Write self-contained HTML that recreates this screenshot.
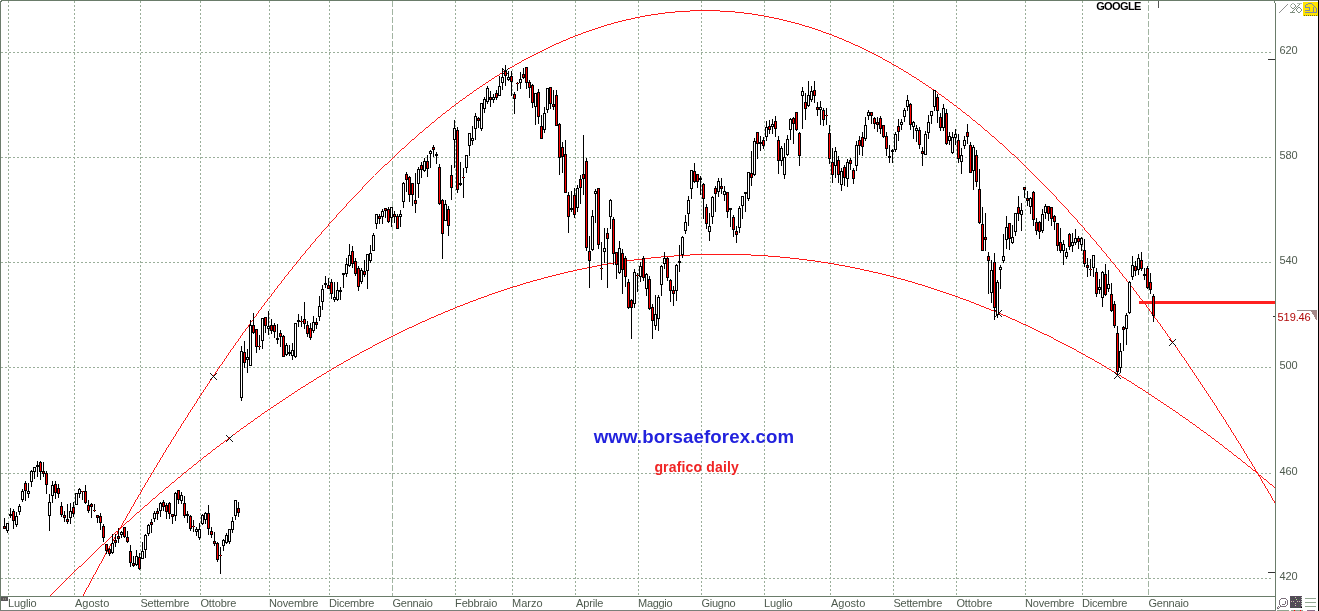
<!DOCTYPE html>
<html lang="it"><head><meta charset="utf-8"><title>GOOGLE - grafico daily</title>
<style>
html,body{margin:0;padding:0;background:#fff;}
body{width:1319px;height:611px;position:relative;overflow:hidden;}
svg{position:absolute;left:0;top:0;display:block;}
</style></head>
<body>
<svg width="1319" height="611" viewBox="0 0 1319 611" style="position:absolute;left:0;top:0;display:block" shape-rendering="crispEdges">
<rect x="0" y="0" width="1319" height="611" fill="#fff"/>
<g id="grid"><line x1="8.5" y1="1" x2="8.5" y2="596" stroke="#9aae9a" stroke-dasharray="2 2"/><line x1="74.5" y1="1" x2="74.5" y2="596" stroke="#9aae9a" stroke-dasharray="2 2"/><line x1="140.5" y1="1" x2="140.5" y2="596" stroke="#9aae9a" stroke-dasharray="2 2"/><line x1="200.5" y1="1" x2="200.5" y2="596" stroke="#9aae9a" stroke-dasharray="2 2"/><line x1="269.5" y1="1" x2="269.5" y2="596" stroke="#9aae9a" stroke-dasharray="2 2"/><line x1="329.5" y1="1" x2="329.5" y2="596" stroke="#9aae9a" stroke-dasharray="2 2"/><line x1="392.5" y1="1" x2="392.5" y2="596" stroke="#a2b4a2" stroke-dasharray="6 2" stroke-dashoffset="0"/><line x1="455.5" y1="1" x2="455.5" y2="596" stroke="#9aae9a" stroke-dasharray="2 2"/><line x1="512.5" y1="1" x2="512.5" y2="596" stroke="#9aae9a" stroke-dasharray="2 2"/><line x1="575.5" y1="1" x2="575.5" y2="596" stroke="#9aae9a" stroke-dasharray="2 2"/><line x1="638.5" y1="1" x2="638.5" y2="596" stroke="#9aae9a" stroke-dasharray="2 2"/><line x1="701.5" y1="1" x2="701.5" y2="596" stroke="#9aae9a" stroke-dasharray="2 2"/><line x1="764.5" y1="1" x2="764.5" y2="596" stroke="#9aae9a" stroke-dasharray="2 2"/><line x1="830.5" y1="1" x2="830.5" y2="596" stroke="#9aae9a" stroke-dasharray="2 2"/><line x1="893.5" y1="1" x2="893.5" y2="596" stroke="#9aae9a" stroke-dasharray="2 2"/><line x1="956.5" y1="1" x2="956.5" y2="596" stroke="#9aae9a" stroke-dasharray="2 2"/><line x1="1025.5" y1="1" x2="1025.5" y2="596" stroke="#9aae9a" stroke-dasharray="2 2"/><line x1="1082.5" y1="1" x2="1082.5" y2="596" stroke="#9aae9a" stroke-dasharray="2 2"/><line x1="1148.5" y1="1" x2="1148.5" y2="596" stroke="#a2b4a2" stroke-dasharray="6 2" stroke-dashoffset="4"/><line x1="1" y1="52.5" x2="1272" y2="52.5" stroke="#9aae9a" stroke-dasharray="2 2"/><line x1="1" y1="157.5" x2="1272" y2="157.5" stroke="#9aae9a" stroke-dasharray="2 2"/><line x1="1" y1="262.5" x2="1272" y2="262.5" stroke="#9aae9a" stroke-dasharray="2 2"/><line x1="1" y1="367.5" x2="1272" y2="367.5" stroke="#9aae9a" stroke-dasharray="2 2"/><line x1="1" y1="473.5" x2="1272" y2="473.5" stroke="#9aae9a" stroke-dasharray="2 2"/><line x1="1" y1="578.5" x2="1272" y2="578.5" stroke="#9aae9a" stroke-dasharray="2 2"/></g>
<rect x="1" y="0" width="1318" height="1" fill="#6a7c6a"/>
<rect x="0" y="1" width="1" height="610" fill="#6c7c6c"/>
<rect x="1" y="1" width="1" height="1" fill="#6a7c6a"/>
<rect x="1275" y="3" width="1" height="608" fill="#6a7c6a"/>
<rect x="1274" y="1" width="1" height="2" fill="#6a7c6a"/>
<rect x="0" y="596" width="1276" height="1" fill="#6a7c6a"/>
<rect x="0" y="610" width="1276" height="1" fill="#7a807a"/>
<rect x="1318" y="0" width="1" height="611" fill="#000"/>
<path id="curveU" d="M690 10h30v1h-30zM675 11h15v1h-15zM720 11h15v1h-15zM665 12h10v1h-10zM735 12h9v1h-9zM658 13h7v1h-7zM744 13h8v1h-8zM651 14h7v1h-7zM752 14h6v1h-6zM645 15h6v1h-6zM758 15h6v1h-6zM640 16h5v1h-5zM764 16h5v1h-5zM635 17h5v1h-5zM769 17h5v1h-5zM631 18h4v1h-4zM774 18h5v1h-5zM626 19h5v1h-5zM779 19h4v1h-4zM622 20h4v1h-4zM783 20h4v1h-4zM618 21h4v1h-4zM787 21h4v1h-4zM614 22h4v1h-4zM791 22h4v1h-4zM611 23h3v1h-3zM795 23h4v1h-4zM607 24h4v1h-4zM799 24h3v1h-3zM604 25h3v1h-3zM802 25h3v1h-3zM601 26h3v1h-3zM805 26h4v1h-4zM598 27h3v1h-3zM809 27h3v1h-3zM595 28h3v1h-3zM812 28h3v1h-3zM592 29h3v1h-3zM815 29h3v1h-3zM589 30h3v1h-3zM818 30h3v1h-3zM586 31h3v1h-3zM821 31h2v1h-2zM583 32h3v1h-3zM823 32h3v1h-3zM581 33h2v1h-2zM826 33h3v1h-3zM578 34h3v1h-3zM829 34h3v1h-3zM575 35h3v1h-3zM832 35h2v1h-2zM573 36h2v1h-2zM834 36h3v1h-3zM570 37h3v1h-3zM837 37h2v1h-2zM568 38h2v1h-2zM839 38h3v1h-3zM566 39h2v1h-2zM842 39h2v1h-2zM563 40h3v1h-3zM844 40h2v1h-2zM561 41h2v1h-2zM846 41h3v1h-3zM559 42h2v1h-2zM849 42h2v1h-2zM556 43h3v1h-3zM851 43h2v1h-2zM554 44h2v1h-2zM853 44h2v1h-2zM552 45h2v1h-2zM855 45h3v1h-3zM550 46h2v1h-2zM858 46h2v1h-2zM548 47h2v1h-2zM860 47h2v1h-2zM546 48h2v1h-2zM862 48h2v1h-2zM544 49h2v1h-2zM864 49h2v1h-2zM542 50h2v1h-2zM866 50h2v1h-2zM540 51h2v1h-2zM868 51h2v1h-2zM538 52h2v1h-2zM870 52h2v1h-2zM536 53h2v1h-2zM872 53h2v1h-2zM534 54h2v1h-2zM874 54h2v1h-2zM532 55h2v1h-2zM876 55h2v1h-2zM530 56h2v1h-2zM878 56h2v1h-2zM528 57h2v1h-2zM880 57h2v1h-2zM526 58h2v1h-2zM882 58h1v1h-1zM524 59h2v1h-2zM883 59h2v1h-2zM522 60h2v1h-2zM885 60h2v1h-2zM521 61h1v1h-1zM887 61h2v1h-2zM519 62h2v1h-2zM889 62h2v1h-2zM517 63h2v1h-2zM891 63h1v1h-1zM515 64h2v1h-2zM892 64h2v1h-2zM514 65h1v1h-1zM894 65h2v1h-2zM512 66h2v1h-2zM896 66h2v1h-2zM510 67h2v1h-2zM898 67h1v1h-1zM508 68h2v1h-2zM899 68h2v1h-2zM507 69h1v1h-1zM901 69h2v1h-2zM505 70h2v1h-2zM903 70h1v1h-1zM503 71h2v1h-2zM904 71h2v1h-2zM502 72h1v1h-1zM906 72h2v1h-2zM500 73h2v1h-2zM908 73h1v1h-1zM499 74h1v1h-1zM909 74h2v1h-2zM497 75h2v1h-2zM911 75h1v1h-1zM495 76h2v1h-2zM912 76h2v1h-2zM494 77h1v1h-1zM914 77h2v1h-2zM492 78h2v1h-2zM916 78h1v1h-1zM491 79h1v1h-1zM917 79h2v1h-2zM489 80h2v1h-2zM919 80h1v1h-1zM488 81h1v1h-1zM920 81h2v1h-2zM486 82h2v1h-2zM922 82h1v1h-1zM485 83h1v1h-1zM923 83h2v1h-2zM483 84h2v1h-2zM925 84h1v1h-1zM482 85h1v1h-1zM926 85h2v1h-2zM480 86h2v1h-2zM928 86h1v1h-1zM479 87h1v1h-1zM929 87h2v1h-2zM477 88h2v1h-2zM931 88h1v1h-1zM476 89h1v1h-1zM932 89h2v1h-2zM474 90h2v1h-2zM934 90h1v1h-1zM473 91h1v1h-1zM935 91h2v1h-2zM472 92h1v1h-1zM937 92h1v1h-1zM470 93h2v1h-2zM938 93h1v1h-1zM469 94h1v1h-1zM939 94h2v1h-2zM467 95h2v1h-2zM941 95h1v1h-1zM466 96h1v1h-1zM942 96h2v1h-2zM465 97h1v1h-1zM944 97h1v1h-1zM463 98h2v1h-2zM945 98h1v1h-1zM462 99h1v1h-1zM946 99h2v1h-2zM460 100h2v1h-2zM948 100h1v1h-1zM459 101h1v1h-1zM949 101h1v1h-1zM458 102h1v1h-1zM950 102h2v1h-2zM456 103h2v1h-2zM952 103h1v1h-1zM455 104h1v1h-1zM953 104h1v1h-1zM454 105h1v1h-1zM954 105h2v1h-2zM452 106h2v1h-2zM956 106h1v1h-1zM451 107h1v1h-1zM957 107h1v1h-1zM450 108h1v1h-1zM958 108h2v1h-2zM449 109h1v1h-1zM960 109h1v1h-1zM447 110h2v1h-2zM961 110h1v1h-1zM446 111h1v1h-1zM962 111h1v1h-1zM445 112h1v1h-1zM963 112h2v1h-2zM443 113h2v1h-2zM965 113h1v1h-1zM442 114h1v1h-1zM966 114h1v1h-1zM441 115h1v1h-1zM967 115h2v1h-2zM440 116h1v1h-1zM969 116h1v1h-1zM438 117h2v1h-2zM970 117h1v1h-1zM437 118h1v1h-1zM971 118h1v1h-1zM436 119h1v1h-1zM972 119h1v1h-1zM435 120h1v1h-1zM973 120h2v1h-2zM434 121h1v1h-1zM975 121h1v1h-1zM432 122h2v1h-2zM976 122h1v1h-1zM431 123h1v1h-1zM977 123h1v1h-1zM430 124h1v1h-1zM978 124h2v1h-2zM429 125h1v1h-1zM980 125h1v1h-1zM428 126h1v1h-1zM981 126h1v1h-1zM426 127h2v1h-2zM982 127h1v1h-1zM425 128h1v1h-1zM983 128h1v1h-1zM424 129h1v1h-1zM984 129h1v1h-1zM423 130h1v1h-1zM985 130h2v1h-2zM422 131h1v1h-1zM987 131h1v1h-1zM420 132h2v1h-2zM988 132h1v1h-1zM419 133h1v1h-1zM989 133h1v1h-1zM418 134h1v1h-1zM990 134h1v1h-1zM417 135h1v1h-1zM991 135h1v1h-1zM416 136h1v1h-1zM992 136h2v1h-2zM415 137h1v1h-1zM994 137h1v1h-1zM414 138h1v1h-1zM995 138h1v1h-1zM412 139h2v1h-2zM996 139h1v1h-1zM411 140h1v1h-1zM997 140h1v1h-1zM410 141h1v1h-1zM998 141h1v1h-1zM409 142h1v1h-1zM999 142h1v1h-1zM408 143h1v1h-1zM1000 143h2v1h-2zM407 144h1v1h-1zM1002 144h1v1h-1zM406 145h1v1h-1zM1003 145h1v1h-1zM405 146h1v1h-1zM1004 146h1v1h-1zM404 147h1v1h-1zM1005 147h1v1h-1zM402 148h2v1h-2zM1006 148h1v1h-1zM401 149h1v1h-1zM1007 149h1v1h-1zM400 150h1v1h-1zM1008 150h1v1h-1zM399 151h1v1h-1zM1009 151h1v1h-1zM398 152h1v1h-1zM1010 152h1v1h-1zM397 153h1v1h-1zM1011 153h1v1h-1zM396 154h1v1h-1zM1012 154h2v1h-2zM395 155h1v1h-1zM1014 155h1v1h-1zM394 156h1v1h-1zM1015 156h1v1h-1zM393 157h1v1h-1zM1016 157h1v1h-1zM392 158h1v1h-1zM1017 158h1v1h-1zM391 159h1v1h-1zM1018 159h1v1h-1zM390 160h1v1h-1zM1019 160h1v1h-1zM389 161h1v1h-1zM1020 161h1v1h-1zM388 162h1v1h-1zM1021 162h1v1h-1zM387 163h1v1h-1zM1022 163h1v1h-1zM385 164h2v1h-2zM1023 164h1v1h-1zM384 165h1v1h-1zM1024 165h1v1h-1zM383 166h1v1h-1zM1025 166h1v1h-1zM382 167h1v1h-1zM1026 167h1v1h-1zM381 168h1v1h-1zM1027 168h1v1h-1zM380 169h1v1h-1zM1028 169h1v1h-1zM379 170h1v1h-1zM1029 170h1v1h-1zM378 171h1v1h-1zM1030 171h1v1h-1zM377 172h1v1h-1zM1031 172h1v1h-1zM376 173h1v1h-1zM1032 173h1v1h-1zM375 174h1v1h-1zM1033 174h1v1h-1zM1034 175h1v1h-1zM373 176h1v1h-1zM1035 176h1v1h-1zM372 177h1v1h-1zM1036 177h1v1h-1zM371 178h1v1h-1zM1037 178h1v1h-1zM370 179h1v1h-1zM1038 179h1v1h-1zM369 180h1v1h-1zM1039 180h1v1h-1zM368 181h1v1h-1zM1040 181h1v1h-1zM367 182h1v1h-1zM1041 182h1v1h-1zM366 183h1v1h-1zM1042 183h1v1h-1zM365 184h1v1h-1zM1043 184h1v1h-1zM364 185h1v1h-1zM1044 185h1v1h-1zM363 186h1v1h-1zM1045 186h1v1h-1zM362 187h1v1h-1zM1046 187h1v1h-1zM362 188h1v1h-1zM1047 188h1v1h-1zM361 189h1v1h-1zM1048 189h1v1h-1zM360 190h1v1h-1zM1049 190h1v1h-1zM359 191h1v1h-1zM1050 191h1v1h-1zM358 192h1v1h-1zM1051 192h1v1h-1zM357 193h1v1h-1zM1052 193h1v1h-1zM356 194h1v1h-1zM1053 194h1v1h-1zM355 195h1v1h-1zM1054 195h1v1h-1zM354 196h1v1h-1zM1055 196h1v1h-1zM353 197h1v1h-1zM1056 197h1v1h-1zM352 198h1v1h-1zM1056 198h1v1h-1zM351 199h1v1h-1zM1057 199h1v1h-1zM350 200h1v1h-1zM1058 200h1v1h-1zM349 201h1v1h-1zM1059 201h1v1h-1zM348 202h1v1h-1zM1060 202h1v1h-1zM347 203h1v1h-1zM1061 203h1v1h-1zM346 204h1v1h-1zM1062 204h1v1h-1zM346 205h1v1h-1zM1063 205h1v1h-1zM345 206h1v1h-1zM1064 206h1v1h-1zM344 207h1v1h-1zM1065 207h1v1h-1zM343 208h1v1h-1zM1066 208h1v1h-1zM342 209h1v1h-1zM1067 209h1v1h-1zM341 210h1v1h-1zM1068 210h1v1h-1zM340 211h1v1h-1zM1068 211h1v1h-1zM339 212h1v1h-1zM1069 212h1v1h-1zM338 213h1v1h-1zM1070 213h1v1h-1zM337 214h1v1h-1zM1071 214h1v1h-1zM336 215h1v1h-1zM1072 215h1v1h-1zM336 216h1v1h-1zM1073 216h1v1h-1zM335 217h1v1h-1zM1074 217h1v1h-1zM334 218h1v1h-1zM1075 218h1v1h-1zM333 219h1v1h-1zM1076 219h1v1h-1zM332 220h1v1h-1zM1077 220h1v1h-1zM331 221h1v1h-1zM1077 221h1v1h-1zM330 222h1v1h-1zM1078 222h1v1h-1zM329 223h1v1h-1zM1079 223h1v1h-1zM328 224h1v1h-1zM1080 224h1v1h-1zM328 225h1v1h-1zM1081 225h1v1h-1zM327 226h1v1h-1zM1082 226h1v1h-1zM326 227h1v1h-1zM1083 227h1v1h-1zM325 228h1v1h-1zM1084 228h1v1h-1zM324 229h1v1h-1zM1084 229h1v1h-1zM323 230h1v1h-1zM1085 230h1v1h-1zM322 231h1v1h-1zM1086 231h1v1h-1zM321 232h1v1h-1zM1087 232h1v1h-1zM321 233h1v1h-1zM1088 233h1v1h-1zM320 234h1v1h-1zM1089 234h1v1h-1zM319 235h1v1h-1zM1090 235h1v1h-1zM318 236h1v1h-1zM1090 236h1v1h-1zM317 237h1v1h-1zM1091 237h1v1h-1zM316 238h1v1h-1zM1092 238h1v1h-1zM315 239h1v1h-1zM1093 239h1v1h-1zM315 240h1v1h-1zM1094 240h1v1h-1zM314 241h1v1h-1zM1095 241h1v1h-1zM313 242h1v1h-1zM1096 242h1v1h-1zM312 243h1v1h-1zM1096 243h1v1h-1zM311 244h1v1h-1zM1097 244h1v1h-1zM310 245h1v1h-1zM1098 245h1v1h-1zM310 246h1v1h-1zM1099 246h1v1h-1zM309 247h1v1h-1zM1100 247h1v1h-1zM308 248h1v1h-1zM1101 248h1v1h-1zM307 249h1v1h-1zM1101 249h1v1h-1zM306 250h1v1h-1zM1102 250h1v1h-1zM305 251h1v1h-1zM1103 251h1v1h-1zM305 252h1v1h-1zM1104 252h1v1h-1zM304 253h1v1h-1zM1105 253h1v1h-1zM303 254h1v1h-1zM1106 254h1v1h-1zM302 255h1v1h-1zM1106 255h1v1h-1zM301 256h1v1h-1zM1107 256h1v1h-1zM300 257h1v1h-1zM1108 257h1v1h-1zM300 258h1v1h-1zM1109 258h1v1h-1zM299 259h1v1h-1zM1110 259h1v1h-1zM298 260h1v1h-1zM1110 260h1v1h-1zM297 261h1v1h-1zM1111 261h1v1h-1zM296 262h1v1h-1zM1112 262h1v1h-1zM296 263h1v1h-1zM1113 263h1v1h-1zM295 264h1v1h-1zM1114 264h1v1h-1zM294 265h1v1h-1zM1115 265h1v1h-1zM293 266h1v1h-1zM1115 266h1v1h-1zM292 267h1v1h-1zM1116 267h1v1h-1zM292 268h1v1h-1zM1117 268h1v1h-1zM291 269h1v1h-1zM1118 269h1v1h-1zM290 270h1v1h-1zM1119 270h1v1h-1zM289 271h1v1h-1zM1119 271h1v1h-1zM288 272h1v1h-1zM1120 272h1v1h-1zM288 273h1v1h-1zM1121 273h1v1h-1zM287 274h1v1h-1zM1122 274h1v1h-1zM286 275h1v1h-1zM1122 275h1v1h-1zM285 276h1v1h-1zM1123 276h1v1h-1zM284 277h1v1h-1zM1124 277h1v1h-1zM284 278h1v1h-1zM1125 278h1v1h-1zM283 279h1v1h-1zM1126 279h1v1h-1zM282 280h1v1h-1zM1126 280h1v1h-1zM281 281h1v1h-1zM1127 281h1v1h-1zM281 282h1v1h-1zM1128 282h1v1h-1zM280 283h1v1h-1zM1129 283h1v1h-1zM279 284h1v1h-1zM1130 284h1v1h-1zM278 285h1v1h-1zM1130 285h1v1h-1zM277 286h1v1h-1zM1131 286h1v1h-1zM277 287h1v1h-1zM1132 287h1v1h-1zM276 288h1v1h-1zM1133 288h1v1h-1zM275 289h1v1h-1zM1133 289h1v1h-1zM274 290h1v1h-1zM1134 290h1v1h-1zM274 291h1v1h-1zM1135 291h1v1h-1zM273 292h1v1h-1zM1136 292h1v1h-1zM272 293h1v1h-1zM1136 293h1v1h-1zM271 294h1v1h-1zM1137 294h1v1h-1zM271 295h1v1h-1zM1138 295h1v1h-1zM270 296h1v1h-1zM1139 296h1v1h-1zM269 297h1v1h-1zM1139 297h1v1h-1zM268 298h1v1h-1zM1140 298h1v1h-1zM267 299h1v1h-1zM1141 299h1v1h-1zM267 300h1v1h-1zM1142 300h1v1h-1zM266 301h1v1h-1zM1143 301h1v1h-1zM265 302h1v1h-1zM1143 302h1v1h-1zM264 303h1v1h-1zM1144 303h1v1h-1zM264 304h1v1h-1zM1145 304h1v1h-1zM263 305h1v1h-1zM1146 305h1v1h-1zM262 306h1v1h-1zM1146 306h1v1h-1zM261 307h1v1h-1zM1147 307h1v1h-1zM261 308h1v1h-1zM1148 308h1v1h-1zM260 309h1v1h-1zM1149 309h1v1h-1zM259 310h1v1h-1zM1149 310h1v1h-1zM258 311h1v1h-1zM1150 311h1v1h-1zM258 312h1v1h-1zM1151 312h1v1h-1zM257 313h1v1h-1zM1151 313h1v1h-1zM256 314h1v1h-1zM1152 314h1v1h-1zM256 315h1v1h-1zM1153 315h1v1h-1zM255 316h1v1h-1zM1154 316h1v1h-1zM254 317h1v1h-1zM1154 317h1v1h-1zM253 318h1v1h-1zM1155 318h1v1h-1zM253 319h1v1h-1zM1156 319h1v1h-1zM252 320h1v1h-1zM1157 320h1v1h-1zM251 321h1v1h-1zM1157 321h1v1h-1zM250 322h1v1h-1zM1158 322h1v1h-1zM250 323h1v1h-1zM1159 323h1v1h-1zM249 324h1v1h-1zM1160 324h1v1h-1zM248 325h1v1h-1zM1160 325h1v1h-1zM248 326h1v1h-1zM1161 326h1v1h-1zM247 327h1v1h-1zM1162 327h1v1h-1zM246 328h1v1h-1zM1162 328h1v1h-1zM245 329h1v1h-1zM1163 329h1v1h-1zM245 330h1v1h-1zM1164 330h1v1h-1zM244 331h1v1h-1zM1165 331h1v1h-1zM243 332h1v1h-1zM1165 332h1v1h-1zM242 333h1v1h-1zM1166 333h1v1h-1zM242 334h1v1h-1zM1167 334h1v1h-1zM241 335h1v1h-1zM1167 335h1v1h-1zM240 336h1v1h-1zM1168 336h1v1h-1zM240 337h1v1h-1zM1169 337h1v1h-1zM239 338h1v1h-1zM1170 338h1v1h-1zM238 339h1v1h-1zM1170 339h1v1h-1zM238 340h1v1h-1zM1171 340h1v1h-1zM237 341h1v1h-1zM1172 341h1v1h-1zM236 342h1v1h-1zM1172 342h1v1h-1zM235 343h1v1h-1zM1173 343h1v1h-1zM235 344h1v1h-1zM1174 344h1v1h-1zM234 345h1v1h-1zM1175 345h1v1h-1zM233 346h1v1h-1zM1175 346h1v1h-1zM233 347h1v1h-1zM1176 347h1v1h-1zM232 348h1v1h-1zM1177 348h1v1h-1zM231 349h1v1h-1zM1177 349h1v1h-1zM230 350h1v1h-1zM1178 350h1v1h-1zM230 351h1v1h-1zM1179 351h1v1h-1zM229 352h1v1h-1zM1179 352h1v1h-1zM228 353h1v1h-1zM1180 353h1v1h-1zM228 354h1v1h-1zM1181 354h1v1h-1zM227 355h1v1h-1zM1181 355h1v1h-1zM226 356h1v1h-1zM1182 356h1v1h-1zM226 357h1v1h-1zM1183 357h1v1h-1zM225 358h1v1h-1zM1184 358h1v1h-1zM224 359h1v1h-1zM1184 359h1v1h-1zM224 360h1v1h-1zM1185 360h1v1h-1zM223 361h1v1h-1zM1186 361h1v1h-1zM222 362h1v1h-1zM1186 362h1v1h-1zM222 363h1v1h-1zM1187 363h1v1h-1zM221 364h1v1h-1zM1188 364h1v1h-1zM220 365h1v1h-1zM1188 365h1v1h-1zM219 366h1v1h-1zM1189 366h1v1h-1zM219 367h1v1h-1zM1190 367h1v1h-1zM218 368h1v1h-1zM1190 368h1v1h-1zM217 369h1v1h-1zM1191 369h1v1h-1zM217 370h1v1h-1zM1192 370h1v1h-1zM216 371h1v1h-1zM1192 371h1v1h-1zM215 372h1v1h-1zM1193 372h1v1h-1zM215 373h1v1h-1zM1194 373h1v1h-1zM214 374h1v1h-1zM1194 374h1v1h-1zM213 375h1v1h-1zM1195 375h1v1h-1zM213 376h1v1h-1zM1196 376h1v1h-1zM212 377h1v1h-1zM1196 377h1v1h-1zM211 378h1v1h-1zM1197 378h1v1h-1zM211 379h1v1h-1zM1198 379h1v1h-1zM210 380h1v1h-1zM1198 380h1v1h-1zM209 381h1v1h-1zM1199 381h1v1h-1zM209 382h1v1h-1zM1200 382h1v1h-1zM208 383h1v1h-1zM1200 383h1v1h-1zM207 384h1v1h-1zM1201 384h1v1h-1zM207 385h1v1h-1zM1202 385h1v1h-1zM206 386h1v1h-1zM1202 386h1v1h-1zM205 387h1v1h-1zM1203 387h1v1h-1zM205 388h1v1h-1zM1204 388h1v1h-1zM204 389h1v1h-1zM1204 389h1v1h-1zM203 390h1v1h-1zM1205 390h1v1h-1zM203 391h1v1h-1zM1206 391h1v1h-1zM202 392h1v1h-1zM1206 392h1v1h-1zM201 393h1v1h-1zM1207 393h1v1h-1zM201 394h1v1h-1zM1208 394h1v1h-1zM200 395h1v1h-1zM1208 395h1v1h-1zM199 396h1v1h-1zM1209 396h1v1h-1zM199 397h1v1h-1zM1210 397h1v1h-1zM198 398h1v1h-1zM1210 398h1v1h-1zM197 399h1v1h-1zM1211 399h1v1h-1zM197 400h1v1h-1zM1212 400h1v1h-1zM196 401h1v1h-1zM1212 401h1v1h-1zM196 402h1v1h-1zM1213 402h1v1h-1zM195 403h1v1h-1zM1214 403h1v1h-1zM194 404h1v1h-1zM1214 404h1v1h-1zM194 405h1v1h-1zM1215 405h1v1h-1zM193 406h1v1h-1zM1216 406h1v1h-1zM192 407h1v1h-1zM1216 407h1v1h-1zM192 408h1v1h-1zM1217 408h1v1h-1zM191 409h1v1h-1zM1217 409h1v1h-1zM190 410h1v1h-1zM1218 410h1v1h-1zM190 411h1v1h-1zM1219 411h1v1h-1zM189 412h1v1h-1zM1219 412h1v1h-1zM188 413h1v1h-1zM1220 413h1v1h-1zM188 414h1v1h-1zM1221 414h1v1h-1zM187 415h1v1h-1zM1221 415h1v1h-1zM187 416h1v1h-1zM1222 416h1v1h-1zM186 417h1v1h-1zM1223 417h1v1h-1zM185 418h1v1h-1zM1223 418h1v1h-1zM185 419h1v1h-1zM1224 419h1v1h-1zM184 420h1v1h-1zM1225 420h1v1h-1zM183 421h1v1h-1zM1225 421h1v1h-1zM183 422h1v1h-1zM1226 422h1v1h-1zM182 423h1v1h-1zM1226 423h1v1h-1zM181 424h1v1h-1zM1227 424h1v1h-1zM181 425h1v1h-1zM1228 425h1v1h-1zM180 426h1v1h-1zM1228 426h1v1h-1zM180 427h1v1h-1zM1229 427h1v1h-1zM179 428h1v1h-1zM1230 428h1v1h-1zM178 429h1v1h-1zM1230 429h1v1h-1zM178 430h1v1h-1zM1231 430h1v1h-1zM177 431h1v1h-1zM1231 431h1v1h-1zM176 432h1v1h-1zM1232 432h1v1h-1zM176 433h1v1h-1zM1233 433h1v1h-1zM175 434h1v1h-1zM1233 434h1v1h-1zM175 435h1v1h-1zM1234 435h1v1h-1zM174 436h1v1h-1zM1235 436h1v1h-1zM173 437h1v1h-1zM1235 437h1v1h-1zM173 438h1v1h-1zM1236 438h1v1h-1zM172 439h1v1h-1zM1236 439h1v1h-1zM171 440h1v1h-1zM1237 440h1v1h-1zM171 441h1v1h-1zM1238 441h1v1h-1zM170 442h1v1h-1zM1238 442h1v1h-1zM170 443h1v1h-1zM1239 443h1v1h-1zM169 444h1v1h-1zM1240 444h1v1h-1zM168 445h1v1h-1zM1240 445h1v1h-1zM168 446h1v1h-1zM1241 446h1v1h-1zM167 447h1v1h-1zM1241 447h1v1h-1zM166 448h1v1h-1zM1242 448h1v1h-1zM166 449h1v1h-1zM1243 449h1v1h-1zM165 450h1v1h-1zM1243 450h1v1h-1zM165 451h1v1h-1zM1244 451h1v1h-1zM164 452h1v1h-1zM1244 452h1v1h-1zM163 453h1v1h-1zM1245 453h1v1h-1zM163 454h1v1h-1zM1246 454h1v1h-1zM162 455h1v1h-1zM1246 455h1v1h-1zM162 456h1v1h-1zM1247 456h1v1h-1zM161 457h1v1h-1zM1247 457h1v1h-1zM160 458h1v1h-1zM1248 458h1v1h-1zM160 459h1v1h-1zM1249 459h1v1h-1zM159 460h1v1h-1zM1249 460h1v1h-1zM159 461h1v1h-1zM1250 461h1v1h-1zM158 462h1v1h-1zM1251 462h1v1h-1zM157 463h1v1h-1zM1251 463h1v1h-1zM157 464h1v1h-1zM1252 464h1v1h-1zM156 465h1v1h-1zM1252 465h1v1h-1zM156 466h1v1h-1zM1253 466h1v1h-1zM155 467h1v1h-1zM1254 467h1v1h-1zM154 468h1v1h-1zM1254 468h1v1h-1zM154 469h1v1h-1zM1255 469h1v1h-1zM153 470h1v1h-1zM1255 470h1v1h-1zM153 471h1v1h-1zM1256 471h1v1h-1zM152 472h1v1h-1zM1257 472h1v1h-1zM151 473h1v1h-1zM1257 473h1v1h-1zM151 474h1v1h-1zM1258 474h1v1h-1zM150 475h1v1h-1zM1258 475h1v1h-1zM150 476h1v1h-1zM1259 476h1v1h-1zM149 477h1v1h-1zM1260 477h1v1h-1zM148 478h1v1h-1zM1260 478h1v1h-1zM148 479h1v1h-1zM1261 479h1v1h-1zM147 480h1v1h-1zM1261 480h1v1h-1zM147 481h1v1h-1zM1262 481h1v1h-1zM146 482h1v1h-1zM1262 482h1v1h-1zM145 483h1v1h-1zM1263 483h1v1h-1zM145 484h1v1h-1zM1264 484h1v1h-1zM144 485h1v1h-1zM1264 485h1v1h-1zM144 486h1v1h-1zM1265 486h1v1h-1zM143 487h1v1h-1zM1265 487h1v1h-1zM142 488h1v1h-1zM1266 488h1v1h-1zM142 489h1v1h-1zM1267 489h1v1h-1zM141 490h1v1h-1zM1267 490h1v1h-1zM141 491h1v1h-1zM1268 491h1v1h-1zM140 492h1v1h-1zM1268 492h1v1h-1zM140 493h1v1h-1zM1269 493h1v1h-1zM139 494h1v1h-1zM1270 494h1v1h-1zM138 495h1v1h-1zM1270 495h1v1h-1zM138 496h1v1h-1zM1271 496h1v1h-1zM137 497h1v1h-1zM1271 497h1v1h-1zM137 498h1v1h-1zM1272 498h1v1h-1zM136 499h1v1h-1zM1272 499h1v1h-1zM135 500h1v1h-1zM1273 500h1v1h-1zM135 501h1v1h-1zM1274 501h1v1h-1zM134 502h1v1h-1zM1274 502h1v1h-1zM134 503h1v1h-1zM133 504h1v1h-1zM133 505h1v1h-1zM132 506h1v1h-1zM131 507h1v1h-1zM131 508h1v1h-1zM130 509h1v1h-1zM130 510h1v1h-1zM129 511h1v1h-1zM129 512h1v1h-1zM128 513h1v1h-1zM127 514h1v1h-1zM127 515h1v1h-1zM126 516h1v1h-1zM126 517h1v1h-1zM125 518h1v1h-1zM125 519h1v1h-1zM124 520h1v1h-1zM123 521h1v1h-1zM123 522h1v1h-1zM122 523h1v1h-1zM122 524h1v1h-1zM121 525h1v1h-1zM121 526h1v1h-1zM120 527h1v1h-1zM119 528h1v1h-1zM119 529h1v1h-1zM118 530h1v1h-1zM118 531h1v1h-1zM117 532h1v1h-1zM117 533h1v1h-1zM116 534h1v1h-1zM115 535h1v1h-1zM115 536h1v1h-1zM114 537h1v1h-1zM114 538h1v1h-1zM113 539h1v1h-1zM113 540h1v1h-1zM112 541h1v1h-1zM112 542h1v1h-1zM111 543h1v1h-1zM110 544h1v1h-1zM110 545h1v1h-1zM109 546h1v1h-1zM109 547h1v1h-1zM108 548h1v1h-1zM108 549h1v1h-1zM107 550h1v1h-1zM107 551h1v1h-1zM106 552h1v1h-1zM105 553h1v1h-1zM105 554h1v1h-1zM104 555h1v1h-1zM104 556h1v1h-1zM103 557h1v1h-1zM103 558h1v1h-1zM102 559h1v1h-1zM102 560h1v1h-1zM101 561h1v1h-1zM101 562h1v1h-1zM100 563h1v1h-1zM99 564h1v1h-1zM99 565h1v1h-1zM98 566h1v1h-1zM98 567h1v1h-1zM97 568h1v1h-1zM97 569h1v1h-1zM96 570h1v1h-1zM96 571h1v1h-1zM95 572h1v1h-1zM95 573h1v1h-1zM94 574h1v1h-1zM93 575h1v1h-1zM93 576h1v1h-1zM92 577h1v1h-1zM92 578h1v1h-1zM91 579h1v1h-1zM91 580h1v1h-1zM90 581h1v1h-1zM90 582h1v1h-1zM89 583h1v1h-1zM89 584h1v1h-1zM88 585h1v1h-1zM88 586h1v1h-1zM87 587h1v1h-1zM86 588h1v1h-1zM86 589h1v1h-1zM85 590h1v1h-1zM85 591h1v1h-1zM84 592h1v1h-1zM84 593h1v1h-1zM83 594h1v1h-1zM83 595h1v1h-1z" fill="#ff1818"/>
<path id="curveL" d="M690 254h61v1h-61zM674 255h16v1h-16zM751 255h17v1h-17zM661 256h13v1h-13zM768 256h12v1h-12zM651 257h10v1h-10zM780 257h10v1h-10zM642 258h9v1h-9zM790 258h9v1h-9zM634 259h8v1h-8zM799 259h8v1h-8zM627 260h7v1h-7zM807 260h8v1h-8zM620 261h7v1h-7zM815 261h6v1h-6zM614 262h6v1h-6zM821 262h7v1h-7zM608 263h6v1h-6zM828 263h6v1h-6zM602 264h6v1h-6zM834 264h5v1h-5zM597 265h5v1h-5zM839 265h6v1h-6zM592 266h5v1h-5zM845 266h5v1h-5zM587 267h5v1h-5zM850 267h5v1h-5zM582 268h5v1h-5zM855 268h5v1h-5zM577 269h5v1h-5zM860 269h4v1h-4zM573 270h4v1h-4zM864 270h5v1h-5zM568 271h5v1h-5zM869 271h4v1h-4zM564 272h4v1h-4zM873 272h5v1h-5zM560 273h4v1h-4zM878 273h4v1h-4zM556 274h4v1h-4zM882 274h4v1h-4zM552 275h4v1h-4zM886 275h4v1h-4zM548 276h4v1h-4zM890 276h4v1h-4zM544 277h4v1h-4zM894 277h3v1h-3zM541 278h3v1h-3zM897 278h4v1h-4zM537 279h4v1h-4zM901 279h4v1h-4zM533 280h4v1h-4zM905 280h3v1h-3zM530 281h3v1h-3zM908 281h4v1h-4zM526 282h4v1h-4zM912 282h3v1h-3zM523 283h3v1h-3zM915 283h3v1h-3zM520 284h3v1h-3zM918 284h4v1h-4zM517 285h3v1h-3zM922 285h3v1h-3zM513 286h4v1h-4zM925 286h3v1h-3zM510 287h3v1h-3zM928 287h3v1h-3zM507 288h3v1h-3zM931 288h3v1h-3zM504 289h3v1h-3zM934 289h3v1h-3zM501 290h3v1h-3zM937 290h3v1h-3zM498 291h3v1h-3zM940 291h3v1h-3zM495 292h3v1h-3zM943 292h3v1h-3zM492 293h3v1h-3zM946 293h3v1h-3zM489 294h3v1h-3zM949 294h3v1h-3zM487 295h2v1h-2zM952 295h3v1h-3zM484 296h3v1h-3zM955 296h3v1h-3zM481 297h3v1h-3zM958 297h2v1h-2zM478 298h3v1h-3zM960 298h3v1h-3zM476 299h2v1h-2zM963 299h3v1h-3zM473 300h3v1h-3zM966 300h3v1h-3zM470 301h3v1h-3zM969 301h2v1h-2zM468 302h2v1h-2zM971 302h3v1h-3zM465 303h3v1h-3zM974 303h2v1h-2zM463 304h2v1h-2zM976 304h3v1h-3zM460 305h3v1h-3zM979 305h2v1h-2zM457 306h3v1h-3zM981 306h3v1h-3zM455 307h2v1h-2zM984 307h2v1h-2zM453 308h2v1h-2zM986 308h3v1h-3zM450 309h3v1h-3zM989 309h2v1h-2zM448 310h2v1h-2zM991 310h3v1h-3zM445 311h3v1h-3zM994 311h2v1h-2zM443 312h2v1h-2zM996 312h3v1h-3zM441 313h2v1h-2zM999 313h2v1h-2zM438 314h3v1h-3zM1001 314h2v1h-2zM436 315h2v1h-2zM1003 315h3v1h-3zM434 316h2v1h-2zM1006 316h2v1h-2zM431 317h3v1h-3zM1008 317h2v1h-2zM429 318h2v1h-2zM1010 318h2v1h-2zM427 319h2v1h-2zM1012 319h3v1h-3zM425 320h2v1h-2zM1015 320h2v1h-2zM422 321h3v1h-3zM1017 321h2v1h-2zM420 322h2v1h-2zM1019 322h2v1h-2zM418 323h2v1h-2zM1021 323h2v1h-2zM416 324h2v1h-2zM1023 324h3v1h-3zM414 325h2v1h-2zM1026 325h2v1h-2zM412 326h2v1h-2zM1028 326h2v1h-2zM409 327h3v1h-3zM1030 327h2v1h-2zM407 328h2v1h-2zM1032 328h2v1h-2zM405 329h2v1h-2zM1034 329h2v1h-2zM403 330h2v1h-2zM1036 330h2v1h-2zM401 331h2v1h-2zM1038 331h2v1h-2zM399 332h2v1h-2zM1040 332h2v1h-2zM397 333h2v1h-2zM1042 333h2v1h-2zM395 334h2v1h-2zM1044 334h3v1h-3zM393 335h2v1h-2zM1047 335h2v1h-2zM391 336h2v1h-2zM1049 336h2v1h-2zM389 337h2v1h-2zM1051 337h2v1h-2zM387 338h2v1h-2zM1053 338h1v1h-1zM385 339h2v1h-2zM1054 339h2v1h-2zM383 340h2v1h-2zM1056 340h2v1h-2zM381 341h2v1h-2zM1058 341h2v1h-2zM379 342h2v1h-2zM1060 342h2v1h-2zM377 343h2v1h-2zM1062 343h2v1h-2zM375 344h2v1h-2zM1064 344h2v1h-2zM373 345h2v1h-2zM1066 345h2v1h-2zM372 346h1v1h-1zM1068 346h2v1h-2zM370 347h2v1h-2zM1070 347h2v1h-2zM368 348h2v1h-2zM1072 348h2v1h-2zM366 349h2v1h-2zM1074 349h2v1h-2zM364 350h2v1h-2zM1076 350h1v1h-1zM362 351h2v1h-2zM1077 351h2v1h-2zM360 352h2v1h-2zM1079 352h2v1h-2zM359 353h1v1h-1zM1081 353h2v1h-2zM357 354h2v1h-2zM1083 354h2v1h-2zM355 355h2v1h-2zM1085 355h1v1h-1zM353 356h2v1h-2zM1086 356h2v1h-2zM351 357h2v1h-2zM1088 357h2v1h-2zM350 358h1v1h-1zM1090 358h2v1h-2zM348 359h2v1h-2zM1092 359h2v1h-2zM346 360h2v1h-2zM1094 360h1v1h-1zM344 361h2v1h-2zM1095 361h2v1h-2zM343 362h1v1h-1zM1097 362h2v1h-2zM341 363h2v1h-2zM1099 363h2v1h-2zM339 364h2v1h-2zM1101 364h1v1h-1zM337 365h2v1h-2zM1102 365h2v1h-2zM336 366h1v1h-1zM1104 366h2v1h-2zM334 367h2v1h-2zM1106 367h1v1h-1zM332 368h2v1h-2zM1107 368h2v1h-2zM331 369h1v1h-1zM1109 369h2v1h-2zM329 370h2v1h-2zM1111 370h1v1h-1zM327 371h2v1h-2zM1112 371h2v1h-2zM326 372h1v1h-1zM1114 372h2v1h-2zM324 373h2v1h-2zM1116 373h1v1h-1zM322 374h2v1h-2zM1117 374h2v1h-2zM321 375h1v1h-1zM1119 375h2v1h-2zM319 376h2v1h-2zM1121 376h1v1h-1zM317 377h2v1h-2zM1122 377h2v1h-2zM316 378h1v1h-1zM1124 378h2v1h-2zM314 379h2v1h-2zM1126 379h1v1h-1zM313 380h1v1h-1zM1127 380h2v1h-2zM311 381h2v1h-2zM1129 381h2v1h-2zM309 382h2v1h-2zM1131 382h1v1h-1zM308 383h1v1h-1zM1132 383h2v1h-2zM306 384h2v1h-2zM1134 384h1v1h-1zM305 385h1v1h-1zM1135 385h2v1h-2zM303 386h2v1h-2zM1137 386h1v1h-1zM301 387h2v1h-2zM1138 387h2v1h-2zM300 388h1v1h-1zM1140 388h2v1h-2zM298 389h2v1h-2zM1142 389h1v1h-1zM297 390h1v1h-1zM1143 390h2v1h-2zM295 391h2v1h-2zM1145 391h1v1h-1zM294 392h1v1h-1zM1146 392h2v1h-2zM292 393h2v1h-2zM1148 393h1v1h-1zM291 394h1v1h-1zM1149 394h2v1h-2zM289 395h2v1h-2zM1151 395h1v1h-1zM288 396h1v1h-1zM1152 396h2v1h-2zM286 397h2v1h-2zM1154 397h1v1h-1zM285 398h1v1h-1zM1155 398h2v1h-2zM283 399h2v1h-2zM1157 399h1v1h-1zM282 400h1v1h-1zM1158 400h2v1h-2zM280 401h2v1h-2zM1160 401h1v1h-1zM279 402h1v1h-1zM1161 402h2v1h-2zM277 403h2v1h-2zM1163 403h1v1h-1zM276 404h1v1h-1zM1164 404h2v1h-2zM274 405h2v1h-2zM1166 405h1v1h-1zM273 406h1v1h-1zM1167 406h2v1h-2zM271 407h2v1h-2zM1169 407h1v1h-1zM270 408h1v1h-1zM1170 408h2v1h-2zM268 409h2v1h-2zM1172 409h1v1h-1zM267 410h1v1h-1zM1173 410h2v1h-2zM265 411h2v1h-2zM1175 411h1v1h-1zM264 412h1v1h-1zM1176 412h2v1h-2zM262 413h2v1h-2zM1178 413h1v1h-1zM261 414h1v1h-1zM1179 414h1v1h-1zM260 415h1v1h-1zM1180 415h2v1h-2zM258 416h2v1h-2zM1182 416h1v1h-1zM257 417h1v1h-1zM1183 417h2v1h-2zM255 418h2v1h-2zM1185 418h1v1h-1zM254 419h1v1h-1zM1186 419h2v1h-2zM253 420h1v1h-1zM1188 420h1v1h-1zM251 421h2v1h-2zM1189 421h1v1h-1zM250 422h1v1h-1zM1190 422h2v1h-2zM248 423h2v1h-2zM1192 423h1v1h-1zM247 424h1v1h-1zM1193 424h2v1h-2zM246 425h1v1h-1zM1195 425h1v1h-1zM244 426h2v1h-2zM1196 426h1v1h-1zM243 427h1v1h-1zM1197 427h2v1h-2zM241 428h2v1h-2zM1199 428h1v1h-1zM240 429h1v1h-1zM1200 429h1v1h-1zM239 430h1v1h-1zM1201 430h2v1h-2zM237 431h2v1h-2zM1203 431h1v1h-1zM236 432h1v1h-1zM1204 432h2v1h-2zM235 433h1v1h-1zM1206 433h1v1h-1zM233 434h2v1h-2zM1207 434h1v1h-1zM232 435h1v1h-1zM1208 435h2v1h-2zM231 436h1v1h-1zM1210 436h1v1h-1zM229 437h2v1h-2zM1211 437h1v1h-1zM228 438h1v1h-1zM1212 438h2v1h-2zM227 439h1v1h-1zM1214 439h1v1h-1zM225 440h2v1h-2zM1215 440h1v1h-1zM224 441h1v1h-1zM1216 441h2v1h-2zM223 442h1v1h-1zM1218 442h1v1h-1zM221 443h2v1h-2zM1219 443h1v1h-1zM220 444h1v1h-1zM1220 444h2v1h-2zM219 445h1v1h-1zM1222 445h1v1h-1zM217 446h2v1h-2zM1223 446h1v1h-1zM216 447h1v1h-1zM1224 447h1v1h-1zM215 448h1v1h-1zM1225 448h2v1h-2zM213 449h2v1h-2zM1227 449h1v1h-1zM212 450h1v1h-1zM1228 450h1v1h-1zM211 451h1v1h-1zM1229 451h2v1h-2zM210 452h1v1h-1zM1231 452h1v1h-1zM208 453h2v1h-2zM1232 453h1v1h-1zM207 454h1v1h-1zM1233 454h1v1h-1zM206 455h1v1h-1zM1234 455h2v1h-2zM204 456h2v1h-2zM1236 456h1v1h-1zM203 457h1v1h-1zM1237 457h1v1h-1zM202 458h1v1h-1zM1238 458h2v1h-2zM201 459h1v1h-1zM1240 459h1v1h-1zM199 460h2v1h-2zM1241 460h1v1h-1zM198 461h1v1h-1zM1242 461h1v1h-1zM197 462h1v1h-1zM1243 462h2v1h-2zM196 463h1v1h-1zM1245 463h1v1h-1zM194 464h2v1h-2zM1246 464h1v1h-1zM193 465h1v1h-1zM1247 465h1v1h-1zM192 466h1v1h-1zM1248 466h2v1h-2zM191 467h1v1h-1zM1250 467h1v1h-1zM189 468h2v1h-2zM1251 468h1v1h-1zM188 469h1v1h-1zM1252 469h1v1h-1zM187 470h1v1h-1zM1253 470h2v1h-2zM186 471h1v1h-1zM1255 471h1v1h-1zM184 472h2v1h-2zM1256 472h1v1h-1zM183 473h1v1h-1zM1257 473h1v1h-1zM182 474h1v1h-1zM1258 474h1v1h-1zM181 475h1v1h-1zM1259 475h2v1h-2zM180 476h1v1h-1zM1261 476h1v1h-1zM178 477h2v1h-2zM1262 477h1v1h-1zM177 478h1v1h-1zM1263 478h1v1h-1zM176 479h1v1h-1zM1264 479h2v1h-2zM175 480h1v1h-1zM1266 480h1v1h-1zM174 481h1v1h-1zM1267 481h1v1h-1zM172 482h2v1h-2zM1268 482h1v1h-1zM171 483h1v1h-1zM1269 483h1v1h-1zM170 484h1v1h-1zM1270 484h2v1h-2zM169 485h1v1h-1zM1272 485h1v1h-1zM168 486h1v1h-1zM1273 486h1v1h-1zM166 487h2v1h-2zM1274 487h1v1h-1zM165 488h1v1h-1zM164 489h1v1h-1zM163 490h1v1h-1zM162 491h1v1h-1zM160 492h2v1h-2zM159 493h1v1h-1zM158 494h1v1h-1zM157 495h1v1h-1zM156 496h1v1h-1zM155 497h1v1h-1zM153 498h2v1h-2zM152 499h1v1h-1zM151 500h1v1h-1zM150 501h1v1h-1zM149 502h1v1h-1zM148 503h1v1h-1zM147 504h1v1h-1zM145 505h2v1h-2zM144 506h1v1h-1zM143 507h1v1h-1zM142 508h1v1h-1zM141 509h1v1h-1zM140 510h1v1h-1zM139 511h1v1h-1zM137 512h2v1h-2zM136 513h1v1h-1zM135 514h1v1h-1zM134 515h1v1h-1zM133 516h1v1h-1zM132 517h1v1h-1zM131 518h1v1h-1zM130 519h1v1h-1zM129 520h1v1h-1zM127 521h2v1h-2zM126 522h1v1h-1zM125 523h1v1h-1zM124 524h1v1h-1zM123 525h1v1h-1zM122 526h1v1h-1zM121 527h1v1h-1zM120 528h1v1h-1zM119 529h1v1h-1zM118 530h1v1h-1zM116 531h2v1h-2zM115 532h1v1h-1zM114 533h1v1h-1zM113 534h1v1h-1zM112 535h1v1h-1zM111 536h1v1h-1zM110 537h1v1h-1zM109 538h1v1h-1zM108 539h1v1h-1zM107 540h1v1h-1zM106 541h1v1h-1zM105 542h1v1h-1zM104 543h1v1h-1zM102 544h2v1h-2zM101 545h1v1h-1zM100 546h1v1h-1zM99 547h1v1h-1zM98 548h1v1h-1zM97 549h1v1h-1zM96 550h1v1h-1zM95 551h1v1h-1zM94 552h1v1h-1zM93 553h1v1h-1zM92 554h1v1h-1zM91 555h1v1h-1zM90 556h1v1h-1zM89 557h1v1h-1zM88 558h1v1h-1zM87 559h1v1h-1zM86 560h1v1h-1zM85 561h1v1h-1zM84 562h1v1h-1zM83 563h1v1h-1zM82 564h1v1h-1zM81 565h1v1h-1zM79 566h2v1h-2zM78 567h1v1h-1zM77 568h1v1h-1zM76 569h1v1h-1zM75 570h1v1h-1zM74 571h1v1h-1zM73 572h1v1h-1zM72 573h1v1h-1zM71 574h1v1h-1zM70 575h1v1h-1zM69 576h1v1h-1zM68 577h1v1h-1zM67 578h1v1h-1zM66 579h1v1h-1zM65 580h1v1h-1zM64 581h1v1h-1zM63 582h1v1h-1zM62 583h1v1h-1zM61 584h1v1h-1zM60 585h1v1h-1zM59 586h1v1h-1zM58 587h1v1h-1zM57 588h1v1h-1zM56 589h1v1h-1zM55 590h1v1h-1zM54 591h1v1h-1zM53 592h1v1h-1zM52 593h1v1h-1zM51 594h1v1h-1zM50 595h1v1h-1z" fill="#ff1818"/>
<rect x="1139" y="301" width="136" height="3" fill="#ff2020"/>
<path d="M210 373h1v1h-1zM210 379h1v1h-1zM211 374h1v1h-1zM211 378h1v1h-1zM212 375h1v1h-1zM212 377h1v1h-1zM213 376h1v1h-1zM214 375h1v1h-1zM214 377h1v1h-1zM215 374h1v1h-1zM215 378h1v1h-1zM216 373h1v1h-1zM216 379h1v1h-1z" fill="#111"/>
<path d="M226 435h1v1h-1zM226 441h1v1h-1zM227 436h1v1h-1zM227 440h1v1h-1zM228 437h1v1h-1zM228 439h1v1h-1zM229 438h1v1h-1zM230 437h1v1h-1zM230 439h1v1h-1zM231 436h1v1h-1zM231 440h1v1h-1zM232 435h1v1h-1zM232 441h1v1h-1z" fill="#111"/>
<path d="M502 68h1v1h-1zM502 74h1v1h-1zM503 69h1v1h-1zM503 73h1v1h-1zM504 70h1v1h-1zM504 72h1v1h-1zM505 71h1v1h-1zM506 70h1v1h-1zM506 72h1v1h-1zM507 69h1v1h-1zM507 73h1v1h-1zM508 68h1v1h-1zM508 74h1v1h-1z" fill="#111"/>
<path d="M995 310h1v1h-1zM995 316h1v1h-1zM996 311h1v1h-1zM996 315h1v1h-1zM997 312h1v1h-1zM997 314h1v1h-1zM998 313h1v1h-1zM999 312h1v1h-1zM999 314h1v1h-1zM1000 311h1v1h-1zM1000 315h1v1h-1zM1001 310h1v1h-1zM1001 316h1v1h-1z" fill="#111"/>
<path d="M1114 372h1v1h-1zM1114 378h1v1h-1zM1115 373h1v1h-1zM1115 377h1v1h-1zM1116 374h1v1h-1zM1116 376h1v1h-1zM1117 375h1v1h-1zM1118 374h1v1h-1zM1118 376h1v1h-1zM1119 373h1v1h-1zM1119 377h1v1h-1zM1120 372h1v1h-1zM1120 378h1v1h-1z" fill="#111"/>
<path d="M1169 339h1v1h-1zM1169 345h1v1h-1zM1170 340h1v1h-1zM1170 344h1v1h-1zM1171 341h1v1h-1zM1171 343h1v1h-1zM1172 342h1v1h-1zM1173 341h1v1h-1zM1173 343h1v1h-1zM1174 340h1v1h-1zM1174 344h1v1h-1zM1175 339h1v1h-1zM1175 345h1v1h-1z" fill="#111"/>
<path id="cb" d="M4 518h1v11h-1zM3 526h3v3h-3zM7 523h1v10h-1zM6 523h3v8h-3zM10 508h1v10h-1zM9 514h3v2h-3zM13 509h1v20h-1zM12 511h3v10h-3zM16 512h1v15h-1zM15 516h3v9h-3zM19 504h1v11h-1zM18 506h3v6h-3zM22 489h1v13h-1zM21 491h3v9h-3zM25 481h1v20h-1zM24 483h3v8h-3zM28 483h1v15h-1zM27 491h3v3h-3zM31 470h1v17h-1zM30 471h3v11h-3zM34 467h1v12h-1zM33 467h3v5h-3zM37 461h1v16h-1zM36 465h3v2h-3zM40 461h1v19h-1zM39 462h3v10h-3zM43 462h1v15h-1zM42 471h3v3h-3zM46 471h1v23h-1zM45 473h3v12h-3zM49 494h1v37h-1zM48 502h3v14h-3zM52 481h1v22h-1zM51 485h3v11h-3zM55 481h1v18h-1zM54 484h3v9h-3zM58 484h1v14h-1zM57 488h3v6h-3zM61 502h1v15h-1zM60 506h3v9h-3zM64 511h1v11h-1zM63 515h3v3h-3zM67 504h1v20h-1zM66 519h3v3h-3zM70 503h1v21h-1zM69 511h3v7h-3zM73 502h1v15h-1zM72 507h3v7h-3zM76 493h1v12h-1zM75 493h3v12h-3zM79 488h1v10h-1zM78 489h3v5h-3zM82 491h1v9h-1zM81 491h3v1h-3zM85 485h1v19h-1zM84 491h3v12h-3zM88 500h1v13h-1zM87 505h3v6h-3zM91 503h1v15h-1zM90 504h3v3h-3zM94 504h1v8h-1zM93 510h3v1h-3zM97 515h1v8h-1zM96 515h3v3h-3zM100 513h1v17h-1zM99 516h3v7h-3zM103 524h1v18h-1zM102 526h3v12h-3zM106 544h1v10h-1zM105 544h3v7h-3zM109 548h1v8h-1zM108 549h3v5h-3zM112 534h1v20h-1zM111 543h3v10h-3zM115 534h1v13h-1zM114 540h3v3h-3zM118 528h1v15h-1zM117 536h3v3h-3zM121 531h1v7h-1zM120 532h3v3h-3zM124 527h1v11h-1zM123 527h3v10h-3zM127 531h1v12h-1zM126 537h3v5h-3zM130 545h1v22h-1zM129 551h3v12h-3zM133 556h1v11h-1zM132 563h3v3h-3zM136 550h1v16h-1zM135 556h3v9h-3zM139 553h1v17h-1zM138 557h3v12h-3zM142 542h1v17h-1zM141 551h3v8h-3zM145 534h1v24h-1zM144 535h3v15h-3zM148 524h1v12h-1zM147 525h3v9h-3zM151 519h1v14h-1zM150 522h3v3h-3zM154 511h1v11h-1zM153 513h3v6h-3zM157 508h1v12h-1zM156 511h3v3h-3zM160 502h1v15h-1zM159 503h3v8h-3zM163 500h1v11h-1zM162 502h3v5h-3zM166 503h1v16h-1zM165 505h3v7h-3zM169 502h1v17h-1zM168 503h3v11h-3zM172 514h1v10h-1zM171 514h3v3h-3zM175 492h1v29h-1zM174 493h3v23h-3zM178 490h1v14h-1zM177 490h3v10h-3zM181 492h1v12h-1zM180 495h3v6h-3zM184 496h1v22h-1zM183 503h3v13h-3zM187 511h1v12h-1zM186 514h3v2h-3zM190 515h1v16h-1zM189 516h3v13h-3zM193 520h1v12h-1zM192 526h3v1h-3zM196 527h1v9h-1zM195 529h3v3h-3zM199 523h1v17h-1zM198 529h3v9h-3zM202 514h1v11h-1zM201 515h3v9h-3zM205 512h1v12h-1zM204 513h3v7h-3zM208 505h1v30h-1zM207 513h3v16h-3zM211 527h1v11h-1zM210 531h3v4h-3zM214 532h1v14h-1zM213 541h3v3h-3zM217 542h1v20h-1zM216 543h3v17h-3zM220 547h1v27h-1zM219 555h3v1h-3zM223 539h1v12h-1zM222 540h3v6h-3zM226 533h1v11h-1zM225 535h3v8h-3zM229 529h1v15h-1zM228 529h3v13h-3zM232 517h1v16h-1zM231 521h3v9h-3zM235 500h1v20h-1zM234 500h3v16h-3zM238 502h1v15h-1zM237 508h3v5h-3zM241 346h1v55h-1zM240 351h3v47h-3zM244 341h1v27h-1zM243 352h3v11h-3zM247 349h1v24h-1zM246 357h3v3h-3zM250 320h1v46h-1zM249 325h3v41h-3zM253 313h1v21h-1zM252 325h3v8h-3zM256 329h1v24h-1zM255 329h3v18h-3zM259 335h1v15h-1zM258 346h3v1h-3zM262 318h1v31h-1zM261 318h3v23h-3zM265 317h1v16h-1zM264 317h3v9h-3zM268 311h1v24h-1zM267 326h3v3h-3zM271 319h1v15h-1zM270 325h3v6h-3zM274 323h1v15h-1zM273 325h3v7h-3zM277 324h1v20h-1zM276 338h3v2h-3zM280 330h1v17h-1zM279 333h3v4h-3zM283 335h1v22h-1zM282 336h3v21h-3zM286 343h1v13h-1zM285 345h3v10h-3zM289 345h1v11h-1zM288 352h3v2h-3zM292 343h1v17h-1zM291 350h3v6h-3zM295 323h1v35h-1zM294 323h3v34h-3zM298 314h1v13h-1zM297 320h3v2h-3zM301 316h1v11h-1zM300 321h3v1h-3zM304 302h1v27h-1zM303 319h3v5h-3zM307 321h1v16h-1zM306 325h3v9h-3zM310 323h1v17h-1zM309 328h3v10h-3zM313 316h1v17h-1zM312 322h3v9h-3zM316 318h1v11h-1zM315 322h3v3h-3zM319 296h1v25h-1zM318 306h3v11h-3zM322 285h1v25h-1zM321 289h3v13h-3zM325 276h1v12h-1zM324 283h3v2h-3zM328 278h1v11h-1zM327 285h3v4h-3zM331 279h1v20h-1zM330 282h3v12h-3zM334 282h1v20h-1zM333 297h3v3h-3zM337 282h1v19h-1zM336 290h3v10h-3zM340 287h1v13h-1zM339 290h3v2h-3zM343 273h1v15h-1zM342 273h3v2h-3zM346 258h1v19h-1zM345 264h3v10h-3zM349 244h1v23h-1zM348 255h3v11h-3zM352 246h1v22h-1zM351 251h3v13h-3zM355 258h1v18h-1zM354 261h3v13h-3zM358 266h1v25h-1zM357 268h3v19h-3zM361 268h1v16h-1zM360 270h3v12h-3zM364 260h1v17h-1zM363 271h3v4h-3zM367 254h1v35h-1zM366 254h3v17h-3zM370 245h1v18h-1zM369 253h3v8h-3zM373 233h1v18h-1zM372 235h3v16h-3zM376 214h1v15h-1zM375 214h3v10h-3zM379 214h1v10h-1zM378 216h3v3h-3zM382 209h1v15h-1zM381 211h3v6h-3zM385 208h1v10h-1zM384 208h3v3h-3zM388 207h1v16h-1zM387 209h3v13h-3zM391 207h1v20h-1zM390 207h3v11h-3zM394 211h1v12h-1zM393 214h3v3h-3zM397 214h1v15h-1zM396 216h3v13h-3zM400 210h1v17h-1zM399 214h3v3h-3zM403 182h1v26h-1zM402 183h3v19h-3zM406 172h1v20h-1zM405 174h3v6h-3zM409 176h1v26h-1zM408 177h3v18h-3zM412 183h1v23h-1zM411 183h3v12h-3zM415 173h1v40h-1zM414 200h3v4h-3zM418 167h1v31h-1zM417 169h3v15h-3zM421 162h1v16h-1zM420 165h3v5h-3zM424 158h1v14h-1zM423 161h3v10h-3zM427 155h1v22h-1zM426 161h3v8h-3zM430 150h1v18h-1zM429 151h3v3h-3zM433 145h1v12h-1zM432 147h3v3h-3zM436 152h1v12h-1zM435 154h3v2h-3zM439 164h1v41h-1zM438 167h3v37h-3zM442 199h1v60h-1zM441 200h3v34h-3zM445 200h1v21h-1zM444 204h3v17h-3zM448 206h1v30h-1zM447 209h3v17h-3zM451 165h1v35h-1zM450 175h3v13h-3zM454 120h1v48h-1zM453 128h3v12h-3zM457 127h1v66h-1zM456 130h3v60h-3zM460 162h1v24h-1zM459 183h3v2h-3zM463 168h1v30h-1zM462 177h3v1h-3zM466 155h1v18h-1zM465 155h3v13h-3zM469 133h1v23h-1zM468 133h3v13h-3zM472 126h1v19h-1zM471 138h3v3h-3zM475 113h1v27h-1zM474 116h3v13h-3zM478 117h1v11h-1zM477 118h3v3h-3zM481 103h1v28h-1zM480 103h3v26h-3zM484 97h1v16h-1zM483 99h3v10h-3zM487 86h1v18h-1zM486 88h3v14h-3zM490 91h1v16h-1zM489 97h3v3h-3zM493 94h1v9h-1zM492 97h3v3h-3zM496 90h1v10h-1zM495 93h3v5h-3zM499 76h1v20h-1zM498 86h3v10h-3zM502 68h1v22h-1zM501 77h3v6h-3zM505 65h1v21h-1zM504 71h3v5h-3zM508 71h1v10h-1zM507 77h3v3h-3zM511 71h1v25h-1zM510 76h3v6h-3zM514 92h1v22h-1zM513 94h3v5h-3zM517 82h1v9h-1zM516 83h3v1h-3zM520 72h1v17h-1zM519 79h3v4h-3zM523 68h1v11h-1zM522 74h3v4h-3zM526 67h1v22h-1zM525 67h3v16h-3zM529 80h1v18h-1zM528 82h3v6h-3zM532 84h1v24h-1zM531 85h3v18h-3zM535 93h1v32h-1zM534 93h3v14h-3zM538 89h1v35h-1zM537 92h3v25h-3zM541 115h1v24h-1zM540 126h3v13h-3zM544 107h1v26h-1zM543 113h3v17h-3zM547 88h1v25h-1zM546 88h3v22h-3zM550 87h1v22h-1zM549 87h3v17h-3zM553 90h1v20h-1zM552 104h3v3h-3zM556 90h1v36h-1zM555 95h3v31h-3zM559 123h1v52h-1zM558 124h3v34h-3zM562 142h1v31h-1zM561 147h3v10h-3zM565 140h1v53h-1zM564 154h3v39h-3zM568 192h1v41h-1zM567 195h3v22h-3zM571 191h1v21h-1zM570 208h3v2h-3zM574 188h1v30h-1zM573 195h3v20h-3zM577 185h1v27h-1zM576 188h3v20h-3zM580 175h1v29h-1zM579 179h3v9h-3zM583 135h1v60h-1zM582 174h3v5h-3zM586 158h1v93h-1zM585 161h3v87h-3zM589 236h1v52h-1zM588 251h3v10h-3zM592 210h1v41h-1zM591 216h3v34h-3zM595 189h1v34h-1zM594 191h3v3h-3zM598 188h1v61h-1zM597 188h3v57h-3zM601 242h1v38h-1zM600 268h3v1h-3zM604 228h1v35h-1zM603 248h3v4h-3zM607 228h1v60h-1zM606 233h3v6h-3zM610 199h1v30h-1zM609 200h3v17h-3zM613 217h1v48h-1zM612 219h3v35h-3zM616 252h1v27h-1zM615 252h3v13h-3zM619 241h1v33h-1zM618 248h3v25h-3zM622 249h1v45h-1zM621 253h3v17h-3zM625 256h1v31h-1zM624 258h3v19h-3zM628 279h1v30h-1zM627 282h3v26h-3zM631 299h1v40h-1zM630 300h3v8h-3zM634 269h1v39h-1zM633 272h3v32h-3zM637 273h1v19h-1zM636 275h3v1h-3zM640 262h1v20h-1zM639 266h3v11h-3zM643 256h1v25h-1zM642 258h3v20h-3zM646 273h1v23h-1zM645 274h3v15h-3zM649 276h1v34h-1zM648 279h3v30h-3zM652 304h1v35h-1zM651 307h3v14h-3zM655 295h1v35h-1zM654 314h3v12h-3zM658 295h1v36h-1zM657 297h3v22h-3zM661 265h1v31h-1zM660 266h3v19h-3zM664 252h1v17h-1zM663 258h3v6h-3zM667 257h1v24h-1zM666 258h3v20h-3zM670 279h1v23h-1zM669 280h3v11h-3zM673 286h1v20h-1zM672 290h3v4h-3zM676 264h1v37h-1zM675 265h3v26h-3zM679 245h1v27h-1zM678 261h3v2h-3zM682 236h1v22h-1zM681 237h3v18h-3zM685 215h1v19h-1zM684 222h3v9h-3zM688 196h1v30h-1zM687 200h3v14h-3zM691 170h1v29h-1zM690 170h3v19h-3zM694 163h1v20h-1zM693 171h3v11h-3zM697 174h1v14h-1zM696 174h3v8h-3zM700 176h1v19h-1zM699 178h3v2h-3zM703 183h1v36h-1zM702 184h3v15h-3zM706 204h1v25h-1zM705 207h3v17h-3zM709 213h1v28h-1zM708 226h3v6h-3zM712 196h1v28h-1zM711 197h3v20h-3zM715 186h1v26h-1zM714 188h3v6h-3zM718 178h1v19h-1zM717 181h3v11h-3zM721 178h1v16h-1zM720 186h3v3h-3zM724 186h1v15h-1zM723 191h3v4h-3zM727 192h1v26h-1zM726 192h3v20h-3zM730 208h1v19h-1zM729 208h3v2h-3zM733 215h1v22h-1zM732 217h3v13h-3zM736 226h1v17h-1zM735 231h3v4h-3zM739 206h1v27h-1zM738 208h3v20h-3zM742 196h1v23h-1zM741 196h3v10h-3zM745 192h1v20h-1zM744 192h3v2h-3zM748 172h1v29h-1zM747 172h3v27h-3zM751 151h1v35h-1zM750 173h3v5h-3zM754 138h1v38h-1zM753 141h3v34h-3zM757 132h1v27h-1zM756 132h3v12h-3zM760 136h1v15h-1zM759 142h3v2h-3zM763 137h1v12h-1zM762 140h3v6h-3zM766 121h1v20h-1zM765 127h3v10h-3zM769 120h1v14h-1zM768 126h3v4h-3zM772 119h1v15h-1zM771 124h3v3h-3zM775 116h1v21h-1zM774 121h3v8h-3zM778 136h1v38h-1zM777 140h3v21h-3zM781 146h1v20h-1zM780 148h3v13h-3zM784 143h1v36h-1zM783 157h3v18h-3zM787 135h1v21h-1zM786 139h3v16h-3zM790 118h1v22h-1zM789 119h3v11h-3zM793 117h1v27h-1zM792 118h3v6h-3zM796 112h1v19h-1zM795 112h3v18h-3zM799 132h1v34h-1zM798 133h3v23h-3zM802 87h1v42h-1zM801 91h3v5h-3zM805 93h1v27h-1zM804 102h3v7h-3zM808 81h1v26h-1zM807 95h3v11h-3zM811 86h1v16h-1zM810 91h3v9h-3zM814 81h1v22h-1zM813 90h3v6h-3zM817 102h1v14h-1zM816 107h3v3h-3zM820 101h1v24h-1zM819 107h3v3h-3zM823 108h1v18h-1zM822 110h3v10h-3zM826 108h1v17h-1zM825 115h3v1h-3zM829 125h1v39h-1zM828 133h3v26h-3zM832 148h1v35h-1zM831 162h3v13h-3zM835 147h1v31h-1zM834 151h3v15h-3zM838 156h1v27h-1zM837 160h3v15h-3zM841 168h1v23h-1zM840 171h3v14h-3zM844 165h1v21h-1zM843 167h3v11h-3zM847 159h1v28h-1zM846 162h3v17h-3zM850 158h1v12h-1zM849 160h3v4h-3zM853 168h1v16h-1zM852 170h3v9h-3zM856 141h1v30h-1zM855 145h3v21h-3zM859 136h1v19h-1zM858 140h3v6h-3zM862 132h1v24h-1zM861 137h3v10h-3zM865 117h1v24h-1zM864 125h3v14h-3zM868 110h1v10h-1zM867 112h3v4h-3zM871 112h1v12h-1zM870 112h3v4h-3zM874 117h1v12h-1zM873 118h3v6h-3zM877 117h1v15h-1zM876 122h3v3h-3zM880 116h1v18h-1zM879 118h3v11h-3zM883 125h1v13h-1zM882 125h3v12h-3zM886 132h1v24h-1zM885 136h3v13h-3zM889 145h1v18h-1zM888 156h3v2h-3zM892 149h1v14h-1zM891 150h3v2h-3zM895 132h1v20h-1zM894 134h3v16h-3zM898 119h1v22h-1zM897 126h3v6h-3zM901 119h1v11h-1zM900 122h3v3h-3zM904 108h1v14h-1zM903 110h3v7h-3zM907 95h1v16h-1zM906 100h3v7h-3zM910 103h1v27h-1zM909 104h3v21h-3zM913 121h1v18h-1zM912 122h3v5h-3zM916 125h1v17h-1zM915 128h3v3h-3zM919 127h1v22h-1zM918 130h3v15h-3zM922 147h1v19h-1zM921 151h3v3h-3zM925 131h1v24h-1zM924 134h3v21h-3zM928 115h1v24h-1zM927 122h3v11h-3zM931 111h1v13h-1zM930 111h3v5h-3zM934 90h1v21h-1zM933 90h3v17h-3zM937 94h1v29h-1zM936 97h3v14h-3zM940 113h1v18h-1zM939 117h3v11h-3zM943 104h1v27h-1zM942 108h3v20h-3zM946 109h1v36h-1zM945 113h3v31h-3zM949 132h1v13h-1zM948 136h3v5h-3zM952 132h1v22h-1zM951 137h3v16h-3zM955 129h1v16h-1zM954 134h3v4h-3zM958 134h1v29h-1zM957 140h3v19h-3zM961 148h1v26h-1zM960 155h3v7h-3zM964 136h1v13h-1zM963 140h3v6h-3zM967 124h1v20h-1zM966 132h3v5h-3zM970 142h1v31h-1zM969 145h3v28h-3zM973 145h1v45h-1zM972 147h3v24h-3zM976 150h1v37h-1zM975 155h3v27h-3zM979 169h1v55h-1zM978 189h3v34h-3zM982 207h1v44h-1zM981 224h3v27h-3zM985 213h1v38h-1zM984 237h3v3h-3zM988 252h1v42h-1zM987 256h3v5h-3zM991 260h1v43h-1zM990 270h3v23h-3zM994 253h1v67h-1zM993 262h3v46h-3zM997 280h1v38h-1zM996 282h3v33h-3zM1000 265h1v24h-1zM999 267h3v3h-3zM1003 234h1v29h-1zM1002 256h3v5h-3zM1006 216h1v33h-1zM1005 227h3v13h-3zM1009 223h1v27h-1zM1008 223h3v16h-3zM1012 225h1v19h-1zM1011 237h3v6h-3zM1015 213h1v23h-1zM1014 213h3v19h-3zM1018 196h1v25h-1zM1017 207h3v7h-3zM1021 203h1v28h-1zM1020 210h3v5h-3zM1024 187h1v11h-1zM1023 187h3v3h-3zM1027 191h1v15h-1zM1026 198h3v3h-3zM1030 197h1v17h-1zM1029 198h3v9h-3zM1033 191h1v35h-1zM1032 192h3v28h-3zM1036 218h1v17h-1zM1035 222h3v9h-3zM1039 221h1v18h-1zM1038 222h3v10h-3zM1042 209h1v24h-1zM1041 214h3v17h-3zM1045 204h1v15h-1zM1044 206h3v7h-3zM1048 206h1v15h-1zM1047 206h3v8h-3zM1051 207h1v19h-1zM1050 207h3v12h-3zM1054 215h1v15h-1zM1053 216h3v6h-3zM1057 223h1v28h-1zM1056 223h3v23h-3zM1060 228h1v25h-1zM1059 242h3v9h-3zM1063 240h1v25h-1zM1062 244h3v7h-3zM1066 248h1v11h-1zM1065 252h3v5h-3zM1069 233h1v17h-1zM1068 234h3v13h-3zM1072 233h1v19h-1zM1071 242h3v4h-3zM1075 229h1v16h-1zM1074 238h3v5h-3zM1078 236h1v13h-1zM1077 238h3v4h-3zM1081 237h1v14h-1zM1080 238h3v7h-3zM1084 239h1v28h-1zM1083 250h3v14h-3zM1087 258h1v19h-1zM1086 265h3v3h-3zM1090 259h1v17h-1zM1089 269h3v1h-3zM1093 255h1v22h-1zM1092 255h3v13h-3zM1096 268h1v29h-1zM1095 272h3v22h-3zM1099 279h1v15h-1zM1098 287h3v3h-3zM1102 271h1v36h-1zM1101 272h3v26h-3zM1105 264h1v32h-1zM1104 274h3v21h-3zM1108 270h1v22h-1zM1107 284h3v5h-3zM1111 283h1v29h-1zM1110 294h3v17h-3zM1114 301h1v27h-1zM1113 304h3v22h-3zM1117 326h1v49h-1zM1116 333h3v39h-3zM1120 343h1v29h-1zM1119 351h3v17h-3zM1123 326h1v25h-1zM1122 327h3v3h-3zM1126 313h1v32h-1zM1125 315h3v14h-3zM1129 281h1v33h-1zM1128 282h3v31h-3zM1132 256h1v24h-1zM1131 265h3v12h-3zM1135 261h1v15h-1zM1134 266h3v5h-3zM1138 254h1v21h-1zM1137 258h3v12h-3zM1141 252h1v19h-1zM1140 260h3v9h-3zM1144 268h1v12h-1zM1143 274h3v2h-3zM1147 266h1v23h-1zM1146 268h3v20h-3zM1150 273h1v21h-1zM1149 282h3v8h-3zM1153 294h1v28h-1zM1152 296h3v20h-3z" fill="#000"/>
<path id="cr" d="M4 527h1v1h-1zM13 512h1v8h-1zM25 484h1v6h-1zM40 463h1v8h-1zM43 472h1v1h-1zM46 474h1v10h-1zM55 485h1v7h-1zM58 489h1v4h-1zM61 507h1v7h-1zM64 516h1v1h-1zM67 520h1v1h-1zM73 508h1v5h-1zM82 491h1v1h-1zM85 492h1v10h-1zM88 506h1v4h-1zM91 505h1v1h-1zM94 510h1v1h-1zM97 516h1v1h-1zM100 517h1v5h-1zM103 527h1v10h-1zM106 545h1v5h-1zM109 550h1v3h-1zM115 541h1v1h-1zM118 537h1v1h-1zM124 528h1v8h-1zM127 538h1v3h-1zM130 552h1v10h-1zM133 564h1v1h-1zM139 558h1v10h-1zM151 523h1v1h-1zM157 512h1v1h-1zM163 503h1v3h-1zM166 506h1v5h-1zM169 504h1v9h-1zM172 515h1v1h-1zM178 491h1v8h-1zM184 504h1v11h-1zM190 517h1v11h-1zM193 526h1v1h-1zM208 514h1v14h-1zM211 532h1v2h-1zM214 542h1v1h-1zM217 544h1v15h-1zM220 555h1v1h-1zM238 509h1v3h-1zM244 353h1v9h-1zM253 326h1v6h-1zM256 330h1v16h-1zM259 346h1v1h-1zM265 318h1v7h-1zM271 326h1v4h-1zM274 326h1v5h-1zM280 334h1v2h-1zM283 337h1v19h-1zM301 321h1v1h-1zM304 320h1v3h-1zM307 326h1v7h-1zM310 329h1v8h-1zM316 323h1v1h-1zM328 286h1v2h-1zM331 283h1v10h-1zM352 252h1v11h-1zM355 262h1v11h-1zM358 269h1v17h-1zM364 272h1v2h-1zM379 217h1v1h-1zM385 209h1v1h-1zM388 210h1v11h-1zM394 215h1v1h-1zM397 217h1v11h-1zM406 175h1v4h-1zM409 178h1v16h-1zM412 184h1v10h-1zM415 201h1v2h-1zM421 166h1v3h-1zM427 162h1v6h-1zM433 148h1v1h-1zM439 168h1v35h-1zM442 201h1v32h-1zM448 210h1v15h-1zM451 176h1v11h-1zM457 131h1v58h-1zM463 177h1v1h-1zM478 119h1v1h-1zM490 98h1v1h-1zM496 94h1v3h-1zM505 72h1v3h-1zM511 77h1v4h-1zM514 95h1v3h-1zM517 83h1v1h-1zM523 75h1v2h-1zM526 68h1v14h-1zM529 83h1v4h-1zM532 86h1v16h-1zM538 93h1v23h-1zM541 127h1v11h-1zM550 88h1v15h-1zM553 105h1v1h-1zM556 96h1v29h-1zM559 125h1v32h-1zM562 148h1v8h-1zM565 155h1v37h-1zM568 196h1v20h-1zM574 196h1v18h-1zM580 180h1v7h-1zM583 175h1v3h-1zM586 162h1v85h-1zM589 252h1v8h-1zM598 189h1v55h-1zM601 268h1v1h-1zM607 234h1v4h-1zM613 220h1v33h-1zM616 253h1v11h-1zM622 254h1v15h-1zM625 259h1v17h-1zM628 283h1v24h-1zM631 301h1v6h-1zM637 275h1v1h-1zM643 259h1v18h-1zM649 280h1v28h-1zM652 308h1v12h-1zM667 259h1v18h-1zM670 281h1v9h-1zM673 291h1v2h-1zM694 172h1v9h-1zM697 175h1v6h-1zM703 185h1v13h-1zM706 208h1v15h-1zM715 189h1v4h-1zM721 187h1v1h-1zM727 193h1v18h-1zM733 218h1v11h-1zM736 232h1v2h-1zM751 174h1v3h-1zM757 133h1v10h-1zM763 141h1v4h-1zM769 127h1v2h-1zM775 122h1v6h-1zM778 141h1v19h-1zM793 119h1v4h-1zM796 113h1v16h-1zM799 134h1v21h-1zM805 103h1v5h-1zM814 91h1v4h-1zM817 108h1v1h-1zM823 111h1v8h-1zM826 115h1v1h-1zM829 134h1v24h-1zM832 163h1v11h-1zM838 161h1v13h-1zM844 168h1v9h-1zM850 161h1v2h-1zM853 171h1v7h-1zM859 141h1v4h-1zM862 138h1v8h-1zM871 113h1v2h-1zM874 119h1v4h-1zM877 123h1v1h-1zM880 119h1v9h-1zM883 126h1v10h-1zM886 137h1v11h-1zM898 127h1v4h-1zM910 105h1v19h-1zM919 131h1v13h-1zM922 152h1v1h-1zM937 98h1v12h-1zM940 118h1v9h-1zM946 114h1v29h-1zM958 141h1v17h-1zM967 133h1v3h-1zM970 146h1v26h-1zM976 156h1v25h-1zM979 190h1v32h-1zM982 225h1v25h-1zM985 238h1v1h-1zM988 257h1v3h-1zM994 263h1v44h-1zM1009 224h1v14h-1zM1018 208h1v5h-1zM1024 188h1v1h-1zM1027 199h1v1h-1zM1033 193h1v26h-1zM1036 223h1v7h-1zM1039 223h1v8h-1zM1048 207h1v6h-1zM1051 208h1v10h-1zM1054 217h1v4h-1zM1057 224h1v21h-1zM1060 243h1v7h-1zM1069 235h1v11h-1zM1078 239h1v2h-1zM1084 251h1v12h-1zM1087 266h1v1h-1zM1090 269h1v1h-1zM1096 273h1v20h-1zM1105 275h1v19h-1zM1111 295h1v15h-1zM1114 305h1v20h-1zM1117 334h1v37h-1zM1123 328h1v1h-1zM1135 267h1v3h-1zM1141 261h1v7h-1zM1147 269h1v18h-1zM1150 283h1v6h-1zM1153 297h1v18h-1z" fill="#ff0000"/>
<path id="cw" d="M7 524h1v6h-1zM16 517h1v7h-1zM19 507h1v4h-1zM22 492h1v7h-1zM28 492h1v1h-1zM31 472h1v9h-1zM34 468h1v3h-1zM49 503h1v12h-1zM52 486h1v9h-1zM70 512h1v5h-1zM76 494h1v10h-1zM79 490h1v3h-1zM112 544h1v8h-1zM121 533h1v1h-1zM136 557h1v7h-1zM142 552h1v6h-1zM145 536h1v13h-1zM148 526h1v7h-1zM154 514h1v4h-1zM160 504h1v6h-1zM175 494h1v21h-1zM181 496h1v4h-1zM196 530h1v1h-1zM199 530h1v7h-1zM202 516h1v7h-1zM205 514h1v5h-1zM223 541h1v4h-1zM226 536h1v6h-1zM229 530h1v11h-1zM232 522h1v7h-1zM235 501h1v14h-1zM241 352h1v45h-1zM247 358h1v1h-1zM250 326h1v39h-1zM262 319h1v21h-1zM268 327h1v1h-1zM286 346h1v8h-1zM292 351h1v4h-1zM295 324h1v32h-1zM313 323h1v7h-1zM319 307h1v9h-1zM322 290h1v11h-1zM334 298h1v1h-1zM337 291h1v8h-1zM346 265h1v8h-1zM349 256h1v9h-1zM361 271h1v10h-1zM367 255h1v15h-1zM370 254h1v6h-1zM373 236h1v14h-1zM376 215h1v8h-1zM382 212h1v4h-1zM391 208h1v9h-1zM400 215h1v1h-1zM403 184h1v17h-1zM418 170h1v13h-1zM424 162h1v8h-1zM430 152h1v1h-1zM445 205h1v15h-1zM454 129h1v10h-1zM466 156h1v11h-1zM469 134h1v11h-1zM472 139h1v1h-1zM475 117h1v11h-1zM481 104h1v24h-1zM484 100h1v8h-1zM487 89h1v12h-1zM493 98h1v1h-1zM499 87h1v8h-1zM502 78h1v4h-1zM508 78h1v1h-1zM520 80h1v2h-1zM535 94h1v12h-1zM544 114h1v15h-1zM547 89h1v20h-1zM577 189h1v18h-1zM592 217h1v32h-1zM595 192h1v1h-1zM604 249h1v2h-1zM610 201h1v15h-1zM619 249h1v23h-1zM634 273h1v30h-1zM640 267h1v9h-1zM646 275h1v13h-1zM655 315h1v10h-1zM658 298h1v20h-1zM661 267h1v17h-1zM664 259h1v4h-1zM676 266h1v24h-1zM682 238h1v16h-1zM685 223h1v7h-1zM688 201h1v12h-1zM691 171h1v17h-1zM709 227h1v4h-1zM712 198h1v18h-1zM718 182h1v9h-1zM724 192h1v2h-1zM739 209h1v18h-1zM742 197h1v8h-1zM748 173h1v25h-1zM754 142h1v32h-1zM766 128h1v8h-1zM772 125h1v1h-1zM781 149h1v11h-1zM784 158h1v16h-1zM787 140h1v14h-1zM790 120h1v9h-1zM802 92h1v3h-1zM808 96h1v9h-1zM811 92h1v7h-1zM820 108h1v1h-1zM835 152h1v13h-1zM841 172h1v12h-1zM847 163h1v15h-1zM856 146h1v19h-1zM865 126h1v12h-1zM868 113h1v2h-1zM895 135h1v14h-1zM901 123h1v1h-1zM904 111h1v5h-1zM907 101h1v5h-1zM913 123h1v3h-1zM916 129h1v1h-1zM925 135h1v19h-1zM928 123h1v9h-1zM931 112h1v3h-1zM934 91h1v15h-1zM943 109h1v18h-1zM949 137h1v3h-1zM952 138h1v14h-1zM955 135h1v2h-1zM961 156h1v5h-1zM964 141h1v4h-1zM973 148h1v22h-1zM991 271h1v21h-1zM997 283h1v31h-1zM1000 268h1v1h-1zM1003 257h1v3h-1zM1006 228h1v11h-1zM1012 238h1v4h-1zM1015 214h1v17h-1zM1021 211h1v3h-1zM1030 199h1v7h-1zM1042 215h1v15h-1zM1045 207h1v5h-1zM1063 245h1v5h-1zM1066 253h1v3h-1zM1072 243h1v2h-1zM1075 239h1v3h-1zM1081 239h1v5h-1zM1093 256h1v11h-1zM1099 288h1v1h-1zM1102 273h1v24h-1zM1108 285h1v3h-1zM1120 352h1v15h-1zM1126 316h1v12h-1zM1129 283h1v29h-1zM1132 266h1v10h-1zM1138 259h1v10h-1z" fill="#fff"/>
<rect x="1268" y="59" width="7" height="1" fill="#333"/>
<rect x="1268" y="572" width="7" height="1" fill="#333"/>
<rect x="1273" y="316" width="2" height="1" fill="#333"/>
<rect x="1158" y="1" width="1" height="7" fill="#555"/>
<g id="icons"><path d="M1279 12h1v1h-1zM1280 11h1v1h-1zM1281 10h1v1h-1zM1282 9h1v1h-1zM1283 8h1v1h-1zM1284 7h1v1h-1zM1285 6h1v1h-1zM1286 5h1v1h-1zM1287 4h1v1h-1z" fill="#8f8f8f"/><path d="M1291 4h1v1h-1zM1294 4h1v1h-1zM1299 4h1v1h-1zM1295 5h1v1h-1zM1298 5h1v1h-1zM1295 6h1v1h-1zM1297 6h1v1h-1zM1291 7h1v1h-1zM1294 7h1v1h-1zM1296 7h1v1h-1zM1298 7h1v1h-1zM1299 7h1v1h-1zM1292 8h1v1h-1zM1293 8h1v1h-1zM1295 8h1v1h-1zM1297 8h1v1h-1zM1300 8h1v1h-1zM1294 9h1v1h-1zM1296 9h1v1h-1zM1301 9h1v1h-1zM1293 10h1v1h-1zM1296 10h1v1h-1zM1301 10h1v1h-1zM1292 11h1v1h-1zM1297 11h1v1h-1zM1300 11h1v1h-1zM1290 12h1v1h-1zM1291 12h1v1h-1zM1292 12h1v1h-1zM1293 12h1v1h-1zM1294 12h1v1h-1zM1298 12h1v1h-1zM1299 12h1v1h-1z" fill="#7f8f7f"/><path d="M1292 3h1v1h-1zM1293 3h1v1h-1zM1297 3h1v1h-1zM1298 3h1v1h-1zM1299 3h1v1h-1zM1300 3h1v1h-1zM1301 3h1v1h-1zM1290 5h1v1h-1zM1290 6h1v1h-1z" fill="#b4c2b4"/><rect x="1303" y="2" width="15" height="14" fill="#ffe400"/><path d="M1304.5 12.5H1316.5V8.5L1312.5 4.5L1311.5 3.5H1308.5L1305.5 5.5V7.5H1309.5V10.5H1304.5M1313.5 6.5V12.5" fill="none" stroke="#7f88a6" stroke-width="1"/><path d="M1304 15h1v1h-1zM1306 15h1v1h-1zM1308 15h1v1h-1zM1310 15h1v1h-1zM1312 15h1v1h-1zM1314 15h1v1h-1zM1316 15h1v1h-1z" fill="#6e6a20"/><path d="M1281 598h1v1h-1zM1282 598h1v1h-1zM1283 598h1v1h-1zM1284 598h1v1h-1zM1285 598h1v1h-1zM1280 599h1v1h-1zM1286 599h1v1h-1zM1279 600h1v1h-1zM1287 600h1v1h-1zM1279 601h1v1h-1zM1287 601h1v1h-1zM1279 602h1v1h-1zM1287 602h1v1h-1zM1279 603h1v1h-1zM1287 603h1v1h-1zM1279 604h1v1h-1zM1287 604h1v1h-1zM1280 605h1v1h-1zM1286 605h1v1h-1zM1280 606h1v1h-1zM1281 606h1v1h-1zM1282 606h1v1h-1zM1283 606h1v1h-1zM1284 606h1v1h-1zM1285 606h1v1h-1zM1278 606h1v1h-1zM1279 607h1v1h-1zM1277 607h1v1h-1zM1278 608h1v1h-1zM1277 608h1v1h-1zM1285 601h1v1h-1zM1285 602h1v1h-1zM1285 603h1v1h-1zM1282 604h1v1h-1zM1283 604h1v1h-1zM1284 604h1v1h-1z" fill="#7a6f7a"/><rect x="1290" y="596" width="12" height="12" fill="#56485a"/><path d="M1291 597h1v1h-1zM1291 599h1v1h-1zM1291 601h1v1h-1zM1291 603h1v1h-1zM1291 605h1v1h-1zM1291 607h1v1h-1zM1293 597h1v1h-1zM1293 599h1v1h-1zM1293 601h1v1h-1zM1293 603h1v1h-1zM1293 605h1v1h-1zM1293 607h1v1h-1zM1295 597h1v1h-1zM1295 599h1v1h-1zM1295 601h1v1h-1zM1295 603h1v1h-1zM1295 605h1v1h-1zM1295 607h1v1h-1zM1297 597h1v1h-1zM1297 599h1v1h-1zM1297 601h1v1h-1zM1297 603h1v1h-1zM1297 605h1v1h-1zM1297 607h1v1h-1zM1299 597h1v1h-1zM1299 599h1v1h-1zM1299 601h1v1h-1zM1299 603h1v1h-1zM1299 605h1v1h-1zM1299 607h1v1h-1z" fill="#3f5f45"/><path d="M1295 597h1v1h-1zM1291 601h1v1h-1zM1293 601h1v1h-1zM1297 601h1v1h-1zM1299 601h1v1h-1zM1295 603h1v1h-1zM1295 605h1v1h-1zM1296 599h1v1h-1z" fill="#c8c8a8"/><path d="M1301 597h1v1h-1zM1301 599h1v1h-1zM1301 601h1v1h-1zM1301 603h1v1h-1zM1301 605h1v1h-1z" fill="#c0d0c0"/><path d="M1301 607h1v1h-1z" fill="#000"/><rect x="1305" y="598" width="11" height="1" fill="#93a893"/><rect x="1305" y="602" width="11" height="1" fill="#93a893"/><rect x="1305" y="606" width="11" height="1" fill="#93a893"/><rect x="1277" y="610" width="12" height="1" fill="#8fa58f"/><rect x="1291" y="610" width="12" height="1" fill="#8fa58f"/><path d="M1294 610h1v1h-1zM1300 610h1v1h-1z" fill="#ff0000"/><rect x="1307" y="610" width="8" height="1" fill="#8a6f8a"/><rect x="1" y="597" width="7" height="4" fill="#5a565a"/><path d="M3 598h1v1h-1zM5 598h1v1h-1zM3 599h1v1h-1zM5 599h1v1h-1z" fill="#8a8a7a"/><rect x="1297" y="310" width="20" height="1" fill="#9a8a8a"/><path d="M1311 311H1317V321z" fill="#a88a8a"/></g>
<g shape-rendering="auto" font-family="'Liberation Sans', Arial, sans-serif">
<text x="8.1" y="607" font-size="11" fill="#4e5a4e" letter-spacing="-0.18">Luglio</text>
<text x="75.0" y="607" font-size="11" fill="#4e5a4e" letter-spacing="0">Agosto</text>
<text x="140.4" y="607" font-size="11" fill="#4e5a4e" letter-spacing="-0.22">Settembre</text>
<text x="200.4" y="607" font-size="11" fill="#4e5a4e" letter-spacing="-0.12">Ottobre</text>
<text x="269.1" y="607" font-size="11" fill="#4e5a4e" letter-spacing="-0.22">Novembre</text>
<text x="329.1" y="607" font-size="11" fill="#4e5a4e" letter-spacing="-0.25">Dicembre</text>
<text x="392.4" y="607" font-size="11" fill="#4e5a4e" letter-spacing="-0.2">Gennaio</text>
<text x="455.1" y="607" font-size="11" fill="#4e5a4e" letter-spacing="-0.18">Febbraio</text>
<text x="512.1" y="607" font-size="11" fill="#4e5a4e" letter-spacing="0">Marzo</text>
<text x="576.0" y="607" font-size="11" fill="#4e5a4e" letter-spacing="-0.15">Aprile</text>
<text x="638.1" y="607" font-size="11" fill="#4e5a4e" letter-spacing="-0.33">Maggio</text>
<text x="701.4" y="607" font-size="11" fill="#4e5a4e" letter-spacing="-0.25">Giugno</text>
<text x="764.1" y="607" font-size="11" fill="#4e5a4e" letter-spacing="-0.18">Luglio</text>
<text x="831.0" y="607" font-size="11" fill="#4e5a4e" letter-spacing="0">Agosto</text>
<text x="893.4" y="607" font-size="11" fill="#4e5a4e" letter-spacing="-0.22">Settembre</text>
<text x="956.4" y="607" font-size="11" fill="#4e5a4e" letter-spacing="-0.12">Ottobre</text>
<text x="1025.1" y="607" font-size="11" fill="#4e5a4e" letter-spacing="-0.22">Novembre</text>
<text x="1082.1" y="607" font-size="11" fill="#4e5a4e" letter-spacing="-0.25">Dicembre</text>
<text x="1148.4" y="607" font-size="11" fill="#4e5a4e" letter-spacing="-0.2">Gennaio</text>
<text x="1279.4" y="54" font-size="11" fill="#4e5a4e" letter-spacing="-0.1">620</text>
<text x="1279.4" y="159" font-size="11" fill="#4e5a4e" letter-spacing="-0.1">580</text>
<text x="1279.4" y="264" font-size="11" fill="#4e5a4e" letter-spacing="-0.1">540</text>
<text x="1279.4" y="369" font-size="11" fill="#4e5a4e" letter-spacing="-0.1">500</text>
<text x="1279.4" y="475" font-size="11" fill="#4e5a4e" letter-spacing="-0.1">460</text>
<text x="1279.4" y="580" font-size="11" fill="#4e5a4e" letter-spacing="-0.1">420</text>
<text x="1277.6" y="321" font-size="11" fill="#b00808" letter-spacing="-0.1">519.46</text>
<text x="1096.2" y="10" font-size="11" font-weight="bold" fill="#000" letter-spacing="-0.62">GOOGLE</text>
<text x="593.7" y="443" font-size="18.67" font-weight="bold" fill="#2222dd" letter-spacing="0.11">www.borsaeforex.com</text>
<text x="654.4" y="472" font-size="14" font-weight="bold" fill="#f02424" letter-spacing="0.17">grafico daily</text>
</g>
</svg>
</body></html>
